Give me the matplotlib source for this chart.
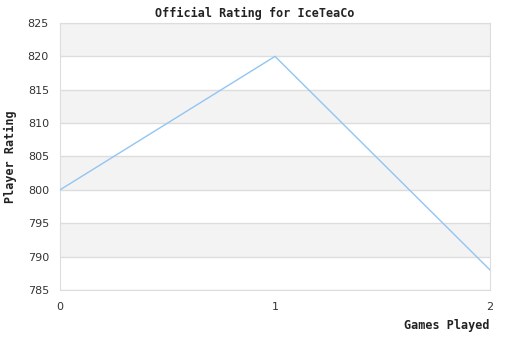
import matplotlib
matplotlib.use("Agg")
import matplotlib.pyplot as plt

# data
games = [0, 1, 2]
rating = [800, 820, 788]
y_ticks = [785, 790, 795, 800, 805, 810, 815, 820, 825]

mono = "DejaVu Sans Mono"

fig = plt.figure(figsize=(5.1, 3.4), dpi=100)
ax = fig.add_axes([60/510, 50/340, 430/510, 267/340])

# alternating bands, grey on the upper half of each 10 step
for lo in range(790, 825, 10):
    ax.axhspan(lo, lo + 5, color="#f3f3f3", zorder=0, lw=0)
for y in y_ticks:
    ax.axhline(y, color="#dddddd", lw=1, zorder=1)

ax.plot(games, rating, color="#92c5f2", lw=1, zorder=3)

ax.set_xlim(0, 2)
ax.set_ylim(785, 825)
ax.set_xticks(games)
ax.set_yticks(y_ticks)
ax.tick_params(length=0, labelsize=8, colors="#333333")
ax.tick_params(axis="x", pad=9)
ax.tick_params(axis="y", pad=8)
for s in ax.spines.values():
    s.set_color("#dddddd")

fig.text(0.5, 1 - 13/340, "Official Rating for IceTeaCo", ha="center", va="center",
         fontsize=8.5, fontweight="bold", family=mono, color="#222222")
fig.text(10/510, 1 - 157/340, "Player Rating", rotation=90, ha="center", va="center",
         fontsize=8.5, fontweight="bold", family=mono, color="#222222")
fig.text(490/510, 1 - 326/340, "Games Played", ha="right", va="center",
         fontsize=8.5, fontweight="bold", family=mono, color="#222222")

fig.savefig("out.png", dpi=100)
